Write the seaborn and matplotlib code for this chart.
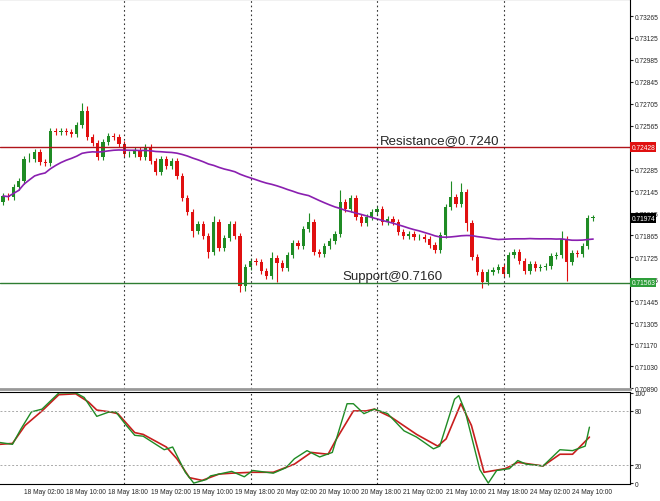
import numpy as np
import pandas as pd
import matplotlib
matplotlib.use("Agg")
import matplotlib.pyplot as plt
import seaborn as sns

# hourly closes, 17 May 22:00 onwards (bar index = position)
closes = [
    0.72116, 0.72109, 0.72173, 0.72212, 0.72352, 0.72352, 0.72397, 0.72333, 0.72326, 0.72531,
    0.72524, 0.72531, 0.72524, 0.72512, 0.72569, 0.72658, 0.72493, 0.72455, 0.72365, 0.72461,
    0.72499, 0.72493, 0.72448, 0.72384, 0.72384, 0.72409, 0.72365, 0.72429, 0.72339, 0.72269,
    0.72352, 0.72307, 0.72339, 0.72243, 0.72103, 0.72014, 0.71893, 0.71937, 0.71861, 0.71758,
    0.71950, 0.71784, 0.71848, 0.71937, 0.71861, 0.71541, 0.71663, 0.71701, 0.71694, 0.71637,
    0.71605, 0.71720, 0.71688, 0.71656, 0.71739, 0.71816, 0.71797,
    0.71905, 0.71950, 0.71758, 0.71746, 0.71797, 0.71829, 0.71873, 0.72077, 0.72033, 0.72103,
    0.71982, 0.71944, 0.71982, 0.72014, 0.72033, 0.71950, 0.71969, 0.71950, 0.71886, 0.71861,
    0.71873, 0.71854, 0.71854, 0.71841, 0.71803, 0.71771, 0.71867, 0.72046, 0.72109, 0.72065,
    0.72141, 0.71944, 0.71726, 0.71631, 0.71567, 0.71631, 0.71643, 0.71663, 0.71618, 0.71739,
    0.71758, 0.71701, 0.71637, 0.71682, 0.71656, 0.71663, 0.71669, 0.71733, 0.71739, 0.71841,
    0.71694, 0.71752, 0.71746, 0.71797, 0.71976, 0.71976,
]
first_open = 0.72077
# wick lengths in pips (0.0001): default and the visible long ones
default_wick = 2
upper_long = {5: 4, 15: 5, 40: 4, 51: 4, 58: 6, 64: 8, 85: 10, 87: 6, 106: 5, 16: 3}
lower_long = {45: 4, 46: 3, 52: 12, 88: 5, 91: 4, 107: 12, 36: 4, 39: 4}

ma_period = 50

# stochastic lines (bar index, value)
stoch_main_x = [-0.6, 1.8, 3.4, 5.4, 7.4, 10.6, 13.8, 15.4, 17.8, 20.2, 21.4, 23.4, 25, 26.6, 30.6,
                32.2, 34.6, 36.2, 38.6, 39.4, 43.4, 45.8, 47.4, 51.3, 53.7, 55.3, 57.7, 60.1, 62.5,
                65.3, 66.5, 68.5, 70.5, 73, 76.1, 78.5, 81.7, 82.9, 85.7, 86.5, 87.7, 90.5, 92.1,
                93.7, 96.1, 97.7, 99.3, 102.5, 105.7, 108.1, 110.5, 111.3]
stoch_main_y = [45, 43, 60, 79, 82, 100, 100, 95, 74, 79, 79, 64, 53, 52, 37,
                40, 12, 0, 4, 8, 13, 7, 14, 11, 17, 27, 36, 29, 34,
                88, 88, 77, 82, 77, 58, 51, 38, 41, 93, 97, 80, 15, 0,
                14, 16, 25, 21, 19, 37, 36, 41, 62]
stoch_sig_x = [-0.6, 1.8, 4.2, 7.4, 10.6, 13.8, 16.2, 17.8, 20.2, 21.8, 25, 26.6, 31, 33, 35.4,
               37.8, 41, 43.4, 47.4, 51.3, 55.3, 58.5, 61.7, 63.3, 66.5, 68.9, 70.5, 73.7, 78.5,
               82.5, 84.1, 86.9, 88.9, 91.3, 95.3, 97.7, 102.5, 105.7, 108.1, 111.3]
stoch_sig_y = [43, 44, 64, 80, 98, 99, 90, 81, 79, 77, 56, 54, 40, 27, 6,
               3, 10, 11, 12, 12, 21, 34, 32, 49, 80, 80, 82, 73, 54,
               41, 49, 88, 64, 12, 16, 23, 19, 32, 32, 51]

time_labels = ["18 May 02:00", "18 May 10:00", "18 May 18:00", "19 May 02:00", "19 May 10:00",
               "19 May 18:00", "20 May 02:00", "20 May 10:00", "20 May 18:00", "21 May 02:00",
               "21 May 10:00", "21 May 18:00", "24 May 02:00", "24 May 10:00"]
label_bars = [4, 12, 20, 28, 36, 44, 52, 60, 68, 76, 84, 92, 100, 108]
day_separators = [23, 47, 71, 95]

price_ticks = [0.73265, 0.73125, 0.72985, 0.72845, 0.72705, 0.72565, 0.72285, 0.72145, 0.72005,
               0.71865, 0.71725, 0.71585, 0.71445, 0.71305, 0.71170, 0.71030, 0.70890]
resistance = 0.72428
support = 0.71563
last_price = 0.71974

GREEN = "#1f8b24"
RED = "#e01010"

n = len(closes)
df = pd.DataFrame({"bar": np.arange(n), "close": closes})
df["open"] = [first_open] + closes[:-1]
up_w = [upper_long.get(i, default_wick) * 1e-4 for i in range(n)]
lo_w = [lower_long.get(i, default_wick) * 1e-4 for i in range(n)]
df["high"] = df[["open", "close"]].max(axis=1) + up_w
df["low"] = df[["open", "close"]].min(axis=1) - lo_w
df["ma"] = df["close"].rolling(ma_period, min_periods=1).mean()

sns.set_style("white")
plt.rcParams["font.family"] = ["Liberation Sans", "DejaVu Sans"]

fig = plt.figure(figsize=(6.6, 5.02), dpi=100)
ax = fig.add_axes([0.0, (502 - 390) / 502, 630 / 660, 390 / 502])
ax2 = fig.add_axes([0.0, (502 - 485) / 502, 630 / 660, 92 / 502])

xlim = (-0.57, 119.0)
tick_fs = 4.8

# candles
colors = np.where(df["close"] >= df["open"], GREEN, RED)
ax.vlines(df["bar"], df["low"], df["high"], colors=colors, linewidth=0.8)
ax.bar(df["bar"], (df["close"] - df["open"]).abs().clip(lower=0.00003),
       bottom=df[["open", "close"]].min(axis=1), width=0.62, color=colors, linewidth=0)
sns.lineplot(data=df, x="bar", y="ma", ax=ax, color="#8a1fb0", linewidth=1.2, legend=False)

ax.axhline(resistance, color="#b0141a", linewidth=1)
ax.axhline(support, color="#2e7d32", linewidth=1)
for s in day_separators:
    ax.axvline(s, color="#333333", linestyle=(0, (1.5, 2.5)), linewidth=0.8)
    ax2.axvline(s, color="#333333", linestyle=(0, (1.5, 2.5)), linewidth=0.8)

ax.text(71.5, resistance + 0.00004, "Resistance@0.7240", fontsize=9.5, va="bottom")
ax.text(64.4, support + 0.00005, "Support@0.7160", fontsize=9.5, va="bottom")

ax.set_xlim(*xlim)
ax.set_ylim(0.70884, 0.73374)
ax.yaxis.tick_right()
ax.set_yticks(price_ticks)
ax.set_yticklabels([f"{p:.5f}" for p in price_ticks], fontsize=tick_fs)
ax.tick_params(axis="y", length=2, pad=1.5, direction="out", right=True)
ax.set_xticks([])
ax.set_xlabel("")
ax.set_ylabel("")

for val, bg in [(resistance, "#e01010"), (last_price, "black"), (support, "#2e9e3a")]:
    ax.text(1.002, val, f"{val:.5f}", transform=ax.get_yaxis_transform(), fontsize=tick_fs,
            color="white", va="center", ha="left",
            bbox=dict(boxstyle="square,pad=0.2", fc=bg, ec="none"))

for a in (ax, ax2):
    for side in ("top", "left", "bottom", "right"):
        a.spines[side].set_visible(True)
        a.spines[side].set_color("black")
        a.spines[side].set_linewidth(0.8)
ax.spines["left"].set_visible(False)
ax2.spines["left"].set_visible(False)
ax.spines["bottom"].set_color("#999999")
ax.spines["bottom"].set_linewidth(2)

# stochastic panel
sns.lineplot(x=stoch_sig_x, y=stoch_sig_y, ax=ax2, color="#c81e1e", linewidth=1.2)
sns.lineplot(x=stoch_main_x, y=stoch_main_y, ax=ax2, color="#1f8b24", linewidth=1.0)
for lvl in (80, 20):
    ax2.axhline(lvl, color="#aaaaaa", linestyle=(0, (2, 2)), linewidth=0.7)
ax2.set_xlim(*xlim)
ax2.set_ylim(-1, 101)
ax2.yaxis.tick_right()
ax2.set_yticks([100, 80, 20, 0])
ax2.set_yticklabels(["100", "80", "20", "0"], fontsize=tick_fs)
ax2.tick_params(axis="y", length=2, pad=1.5)
ax2.set_xticks(label_bars)
ax2.set_xticklabels(time_labels, fontsize=tick_fs, ha="left")
ax2.tick_params(axis="x", length=2, pad=1)

fig.savefig("out.png", dpi=100)
